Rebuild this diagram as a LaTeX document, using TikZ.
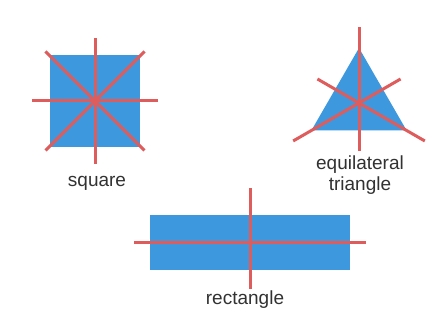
\documentclass[tikz,border=0pt]{standalone}
\usepackage{fontspec}
\setmainfont{Liberation Sans}
\usepackage{tikz}
\usetikzlibrary{
  shapes.geometric,
  positioning
}
\definecolor{ShapeBlue}{RGB}{62, 152, 222}
\definecolor{AxisRed}{RGB}{222, 92, 92}
\definecolor{LabelGray}{RGB}{50, 50, 50}
\tikzset{
    shapefill/.style={fill=ShapeBlue, draw=none, inner sep=0pt, outer sep=0pt},
    symline/.style={draw=AxisRed, line width=3pt},
    shapelabel/.style={text=LabelGray, font=\fontsize{19}{21}\selectfont, align=center}
}

\begin{document}
\begin{tikzpicture}[x=1pt, y=1pt]
    \useasboundingbox[fill=white] (0,0) rectangle (432,328);

    % square
    \node[shapefill, minimum width=90pt, minimum height=92pt] (sq) at (95,227) {};
    \foreach \ang/\len in {90/63, 0/63, 45/70, 135/70} {
        \draw[symline] ([shift={(\ang:\len)}]sq.center) -- ([shift={(\ang+180:\len)}]sq.center);
    }
    \node[shapelabel] (sqlabel) at (97,145) {square};

    % equilateral triangle
    \node[shapefill, regular polygon, regular polygon sides=3, minimum size=110pt] (tri) at (359,225) {};
    \foreach \ang in {90, 210, 330} {
        \draw[symline] (tri.center) -- +(\ang:76pt);
        \draw[symline] (tri.center) -- +(\ang+180:48pt);
    }
    \node[shapelabel] (trilabel) at (360,153) {equilateral\\triangle};

    % rectangle
    \node[shapefill, minimum width=200pt, minimum height=55pt] (rect) at (250,85.5) {};
    \draw[symline] ([xshift=-116pt]rect.center) -- ([xshift=116pt]rect.center);
    \draw[symline] ([yshift=54pt]rect.center) -- ([yshift=-47pt]rect.center);
    \node[shapelabel] (rectlabel) at (245,28) {rectangle};
\end{tikzpicture}
\end{document}
